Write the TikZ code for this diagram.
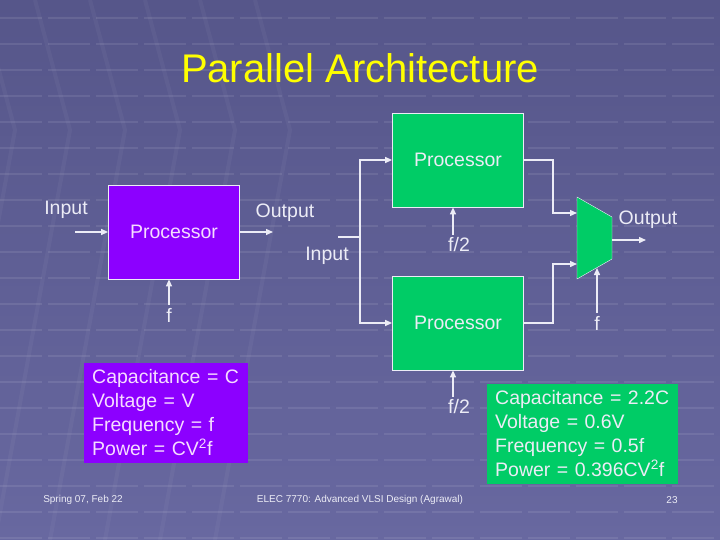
\documentclass[tikz,border=0pt]{standalone}
\usepackage{fontspec}
\setmainfont{Liberation Sans}
\usetikzlibrary{arrows.meta,positioning}
\definecolor{slidetop}{RGB}{86,86,138}
\definecolor{slidebot}{RGB}{104,104,160}
\definecolor{procgreen}{RGB}{0,204,102}
\definecolor{procpurple}{RGB}{140,0,255}
\definecolor{wirewhite}{RGB}{236,236,246}
\definecolor{pinkwhite}{RGB}{246,220,255}
\definecolor{titleyellow}{RGB}{255,255,0}

\tikzset{
  wire/.style={wirewhite, line width=1.4pt},
  arr/.style={wire, -{Triangle[length=7pt,width=6pt]}},
  lbl/.style={text=wirewhite, font=\fontsize{19.5}{22}\selectfont, inner sep=3pt},
  procbox/.style={draw=wirewhite, line width=0.8pt, minimum width=131pt, minimum height=94pt,
    font=\fontsize{19.5}{22}\selectfont},
  infobox/.style={anchor=north west, align=left, inner xsep=8pt, inner ysep=6.5pt,
    font=\fontsize{19.5}{24}\selectfont},
  footer/.style={text=wirewhite, font=\fontsize{10}{12}\selectfont},
  gridline/.style={white, opacity=0.09, line width=2.5pt, dash pattern=on 42pt off 6pt}
}

\begin{document}
\begin{tikzpicture}[x=1pt, y=-1pt]
\useasboundingbox (0,0) rectangle (720,540);
\clip (0,0) rectangle (720,540);
% Background
\shade[top color=slidetop, bottom color=slidebot] (0,0) rectangle (720,540);
\foreach \y in {18,44,...,540}
  \draw[gridline] (0,\y) -- (720,\y);
\foreach \x in {-20,35,...,260}
  \draw[white, opacity=0.04, line width=4pt] (\x,0) -- (\x+35,130) -- (\x-40,540);

% Title
\node[titleyellow, font=\fontsize{40}{44}\selectfont] (title) at (360,68) {Parallel Architecture};

% Single processor
\node[procbox, fill=procpurple, text=pinkwhite] (proc) at (174,232) {Processor};
\coordinate (inL) at (75,232);
\coordinate (outR) at (273,232);
\draw[arr] (inL) -- (proc.west);
\draw[arr] (proc.east) -- (outR);
\node[lbl] (inLbl) at (66,210) {Input};
\node[lbl] (outLbl) at (285,213) {Output};
\node[lbl] (fLbl) at (169,315) {f};
\draw[arr] (fLbl.north) -- (fLbl.north |- proc.south);

\node[infobox, fill=procpurple, text=pinkwhite, text width=148pt] (infoA) at (84,363)
  {Capacitance = C\\Voltage = V\\Frequency = f\\Power = CV\textsuperscript{2}f};

% Two processors
\node[procbox, fill=procgreen, text=wirewhite] (procA) at (458,160) {Processor};
\node[procbox, fill=procgreen, text=wirewhite] (procB) at (458,323) {Processor};
\coordinate (splitIn) at (338,237);
\coordinate (splitJ) at (360,237);
\draw[wire] (splitIn) -- (splitJ);
\draw[arr] (splitJ) |- (procA.west);
\draw[arr] (splitJ) |- (procB.west);
\node[lbl] (inLbl2) at (327,256) {Input};

\node[lbl] (fhA) at (459,245) {f/2};
\node[lbl] (fhB) at (459,407) {f/2};
\draw[arr] ([xshift=-6pt]fhA.north) -- ([xshift=-6pt]fhA.north |- procA.south);
\draw[arr] ([xshift=-6pt]fhB.north) -- ([xshift=-6pt]fhB.north |- procB.south);

% Multiplexer
\coordinate (muxTL) at (577,197);
\coordinate (muxTR) at (612,217);
\coordinate (muxBR) at (612,259);
\coordinate (muxBL) at (577,279);
\fill[procgreen, draw=wirewhite, line width=0.4pt] (muxTL) -- (muxTR) -- (muxBR) -- (muxBL) -- cycle;
\coordinate (muxInA) at (577,213);
\coordinate (muxInB) at (577,264);
\coordinate (bendA) at (553,213);
\coordinate (bendB) at (553,264);
\draw[arr] (procA.east) -| (bendA) -- (muxInA);
\draw[arr] (procB.east) -| (bendB) -- (muxInB);
\coordinate (muxOut) at (612,240);
\coordinate (outEnd) at (646,240);
\draw[arr] (muxOut) -- (outEnd);
\node[lbl] (outLbl2) at (648,220) {Output};
\node[lbl] (fMux) at (597,323) {f};
\coordinate (muxSel) at (597,268);
\draw[arr] (fMux.north) -- (muxSel);

\node[infobox, fill=procgreen, text=wirewhite, text width=175pt] (infoB) at (487,384)
  {Capacitance = 2.2C\\Voltage = 0.6V\\Frequency = 0.5f\\Power = 0.396CV\textsuperscript{2}f};

% Footer
\node[footer] (date) at (83,500) {Spring 07, Feb 22};
\node[footer] (course) at (360,500) {ELEC 7770: Advanced VLSI Design (Agrawal)};
\node[footer] (pageno) at (672,500) {23};
\end{tikzpicture}
\end{document}
